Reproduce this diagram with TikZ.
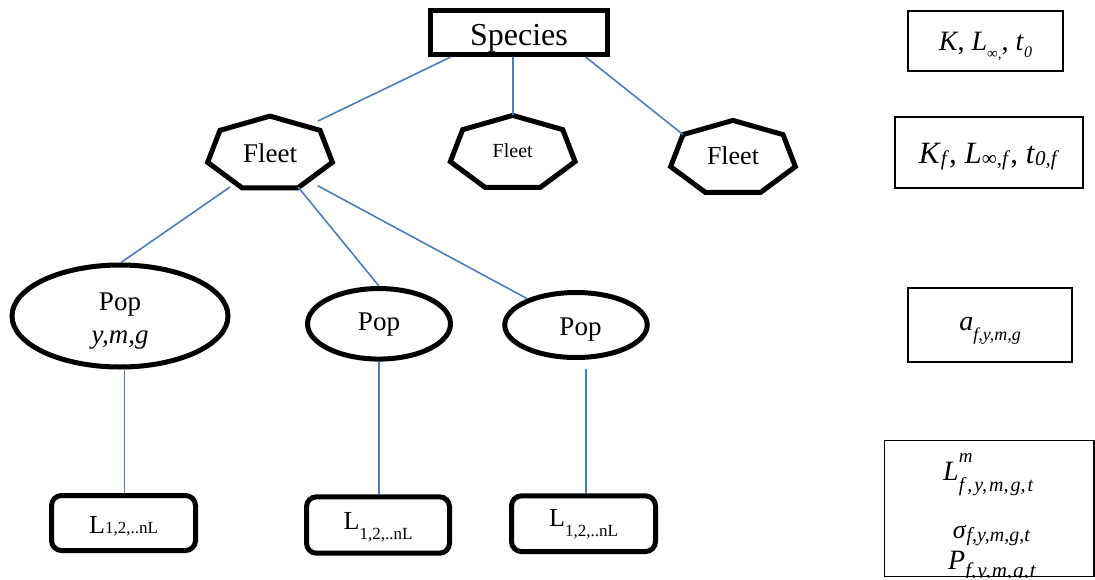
\documentclass[tikz,border=0pt]{standalone}
\usepackage{fontspec}
\setmainfont{Liberation Serif}
\usetikzlibrary{shapes.geometric}
\definecolor{conncol}{RGB}{74,126,187}
\newcommand{\fs}[1]{\fontsize{#1}{#1}\selectfont}
\newcommand{\sbs}[3]{\raisebox{-#1pt}{\fs{#2}#3}}
\newcommand{\drawhept}[1]{%
  \draw[heptline] ([shift={(90:64pt and 37.8pt)}]#1.center)
    -- ([shift={(141.43:64pt and 37.8pt)}]#1.center)
    -- ([shift={(192.86:64pt and 37.8pt)}]#1.center)
    -- ([shift={(244.29:64pt and 37.8pt)}]#1.center)
    -- ([shift={(295.71:64pt and 37.8pt)}]#1.center)
    -- ([shift={(347.14:64pt and 37.8pt)}]#1.center)
    -- ([shift={(38.57:64pt and 37.8pt)}]#1.center) -- cycle;}
\begin{document}
\begin{tikzpicture}[x=1pt,y=-1pt,
  thickbox/.style={draw, line width=5pt, inner sep=0pt, text depth=0pt},
  thinbox/.style={draw, line width=1.3pt, inner sep=0pt, text depth=0pt},
  lbox/.style={draw, line width=5pt, rounded corners=10pt, inner sep=0pt, text depth=0pt},
  popnode/.style={draw, ellipse, line width=5pt, inner sep=0pt, text depth=0pt},
  plain/.style={inner sep=0pt, text depth=0pt},
  heptline/.style={line width=5pt, line join=miter},
  conn/.style={draw=conncol, line width=1.6pt}]
\useasboundingbox (0,0) rectangle (1095,579);

% top
\node[thickbox, minimum width=177pt, minimum height=44pt, text height=25pt] (sp) at (519,32.5) {\fs{32}Species};

% fleets
\node[plain, text height=17.6pt] (f1) at (270,153.9) {\fs{27}Fleet};
\node[plain, text height=9pt] (f2) at (512.7,153.2) {\fs{20}Fleet};
\node[plain, text height=11.6pt] (f3) at (733,158.2) {\fs{26}Fleet};
\drawhept{f1}
\drawhept{f2}
\drawhept{f3}

% populations
\node[popnode, minimum width=216pt, minimum height=102pt, text height=54.6pt] (p1) at (120,316)
  {\fontsize{27}{33}\selectfont\begin{tabular}[b]{@{}c@{}}Pop\\\textit{y,m,g}\end{tabular}};
\node[popnode, minimum width=143pt, minimum height=70.5pt, text height=12.4pt] (p2) at (379,323.8) {\fs{27}Pop};
\node[popnode, minimum width=142.5pt, minimum height=65pt, text height=20pt] (p3) at (576,325) {\fs{27}\hspace*{9pt}Pop};

% length boxes
\node[lbox, minimum width=144pt, minimum height=55pt, text height=20.6pt] (l1) at (123.5,523) {\fs{26}L{\fs{17}1,2,..nL}};
\node[lbox, minimum width=143pt, minimum height=56.4pt, text height=8.6pt] (l2) at (378,525) {\fs{26}L\sbs{10}{17}{1,2,..nL}};
\node[lbox, minimum width=144pt, minimum height=55.7pt, text height=6pt] (l3) at (583.5,523.7) {\fs{26}L\sbs{10}{17}{1,2,..nL}};

% parameter boxes
\node[thinbox, minimum width=155pt, minimum height=60pt, text height=18pt] (v1) at (985.5,41)
  {\fs{28}\textit{K}, \textit{L}\sbs{8}{15}{∞,}, \textit{t}\sbs{7}{16}{\textit{0}}};
\node[thinbox, minimum width=188pt, minimum height=71pt, text height=21.6pt] (v2) at (989,152.5)
  {\fs{31}\textit{K}\sbs{2}{21}{\textit{f}}, \textit{L}\sbs{2}{21}{∞,\textit{f}}, \textit{t}\sbs{2}{21}{\textit{0,f}}};
\node[thinbox, minimum width=164pt, minimum height=74pt, text height=10pt] (v3) at (990,325)
  {\fs{28}\textit{a}\sbs{10}{18}{\textit{f,y,m,g}}};
\node[thinbox, minimum width=209.5pt, minimum height=136pt] (v4) at (989.25,508.5) {};
\begin{scope}
\clip (v4.south west) rectangle (v4.north east);
\node[plain, anchor=base west] (v4a) at (943,480)
  {\fs{28}\textit{L}\rlap{\raisebox{18pt}{\fs{19}\textit{m}}}\sbs{11}{20}{\textit{f\hspace{3pt},\hspace{2pt}y,\hspace{2pt}m,\hspace{2pt}g,\hspace{2pt}t}}};
\node[plain, anchor=base west] (v4b) at (952.7,538)
  {\fs{26}\textit{σ}\sbs{3}{20}{\textit{f,y,m,g,t}}};
\node[plain, anchor=base west] (v4c) at (948,569)
  {\fs{28}\textit{P}\sbs{8}{21}{\textit{f,\hspace{1pt}y,\hspace{1pt}m,\hspace{1pt}g,\hspace{1pt}t}}};
\end{scope}

% connectors
\draw[conn] ([xshift=22.7pt]sp.south west) -- ([shift={(48,-32.9)}]f1.center);
\draw[conn] ([xshift=-6.3pt]sp.south) -- ([shift={(0,-37.8)}]f2.center);
\draw[conn] ([xshift=-24.3pt]sp.south east) -- ([shift={(-50,-23.6)}]f3.center);
\draw[conn] ([shift={(-40,33.1)}]f1.center) -- ([xshift=1pt]p1.north);
\draw[conn] ([shift={(28.3,33.4)}]f1.center) -- (p2.north);
\draw[conn] ([shift={(47.7,31.8)}]f1.center) -- (p3);
\draw[conn] ([xshift=4.3pt]p1.south) -- ([xshift=0.8pt]l1.north);
\draw[conn] (p2.south) -- ([xshift=1pt]l2.north);
\draw[conn] ([shift={(10,9)}]p3.south) -- ([xshift=2.5pt]l3.north);
\end{tikzpicture}
\end{document}
